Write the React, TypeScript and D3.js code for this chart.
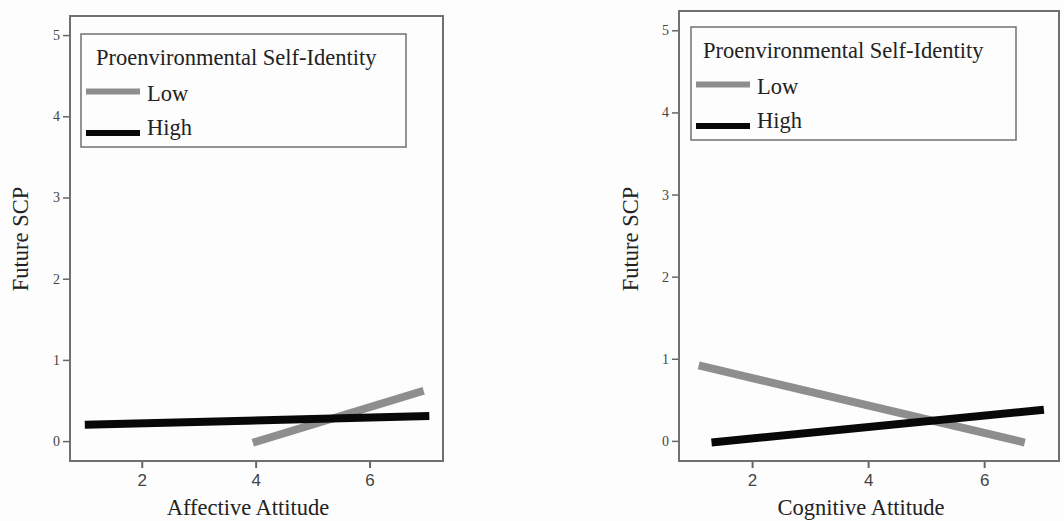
import { useEffect, useRef } from "react";
import * as d3 from "d3";

// Chart values
const groupNames = ["Low", "High"];
const legendTitle = "Proenvironmental Self-Identity";
const yLabel = "Future SCP";
const xLabels = ["Affective Attitude", "Cognitive Attitude"];
const xTicks = [2, 4, 6];
const yTicks = [0, 1, 2, 3, 4, 5];

// Affective panel: endpoints of the simple slopes
const affectiveLowX = [3.95, 6.95];
const affectiveLowY = [-0.02, 0.62];
const affectiveHighX = [1.0, 7.05];
const affectiveHighY = [0.2, 0.31];

// Cognitive panel
const cognitiveLowX = [1.08, 6.7];
const cognitiveLowY = [0.92, -0.02];
const cognitiveHighX = [1.3, 7.03];
const cognitiveHighY = [-0.02, 0.38];

const width = 1064;
const height = 521;

const xDomain = [0.74, 7.29];
const yDomain = [-0.245, 5.235];

// layout of each panel (pixels)
const panels = [
  {
    label: xLabels[0],
    frame: { left: 70, top: 16, right: 443, bottom: 461 },
    legend: { left: 81, top: 34, right: 406, bottom: 147 },
    titleDx: 15,
    yLabelX: 27.5,
    xLabelX: 248,
    series: [
      { name: groupNames[0], xs: affectiveLowX, ys: affectiveLowY },
      { name: groupNames[1], xs: affectiveHighX, ys: affectiveHighY },
    ],
  },
  {
    label: xLabels[1],
    frame: { left: 679, top: 11, right: 1059, bottom: 461 },
    legend: { left: 691, top: 27, right: 1016, bottom: 140 },
    titleDx: 12,
    yLabelX: 638,
    xLabelX: 861,
    series: [
      { name: groupNames[0], xs: cognitiveLowX, ys: cognitiveLowY },
      { name: groupNames[1], xs: cognitiveHighX, ys: cognitiveHighY },
    ],
  },
];

const colors: Record<string, string> = { Low: "#8e8e8e", High: "#080808" };
const serif = "'Liberation Serif', 'Times New Roman', serif";
const sans = "'Liberation Sans', Arial, sans-serif";
const fontSize = 22.5;

const drawChart = (node: SVGSVGElement) => {
  const svg = d3.select(node);
  svg.selectAll("*").remove();

  svg.append("rect").attr("width", width).attr("height", height).attr("fill", "#fdfdfd");

  panels.forEach((p) => {
    const f = p.frame;
    const x = d3.scaleLinear().domain(xDomain).range([f.left, f.right]);
    const y = d3.scaleLinear().domain(yDomain).range([f.bottom, f.top]);
    const g = svg.append("g");

    // frame
    g.append("rect")
      .attr("x", f.left)
      .attr("y", f.top)
      .attr("width", f.right - f.left)
      .attr("height", f.bottom - f.top)
      .attr("fill", "none")
      .attr("stroke", "#707070")
      .attr("stroke-width", 2);

    // y axis ticks
    const yAxis = g.append("g")
      .attr("transform", `translate(${f.left - 1},0)`)
      .call(d3.axisLeft(y).tickValues(yTicks).tickSize(6).tickPadding(3).tickFormat(d3.format("d")));
    yAxis.select(".domain").remove();
    yAxis.selectAll("line").attr("stroke", "#666").attr("stroke-width", 1.5);
    yAxis.selectAll("text").attr("font-family", serif).attr("font-size", 14).attr("fill", "#444");

    // x axis ticks
    const xAxis = g.append("g")
      .attr("transform", `translate(0,${f.bottom + 1})`)
      .call(d3.axisBottom(x).tickValues(xTicks).tickSize(6).tickPadding(6).tickFormat(d3.format("d")));
    xAxis.select(".domain").remove();
    xAxis.selectAll("line").attr("stroke", "#666").attr("stroke-width", 2);
    xAxis.selectAll("text").attr("font-family", sans).attr("font-size", 17).attr("fill", "#444");

    // lines
    const line = d3.line<[number, number]>().x((d) => x(d[0])).y((d) => y(d[1]));
    p.series.forEach((s) => {
      const pts = s.xs.map((v, i) => [v, s.ys[i]] as [number, number]);
      g.append("path")
        .attr("d", line(pts))
        .attr("fill", "none")
        .attr("stroke", colors[s.name])
        .attr("stroke-width", 8);
    });

    // legend
    const l = p.legend;
    g.append("rect")
      .attr("x", l.left)
      .attr("y", l.top)
      .attr("width", l.right - l.left)
      .attr("height", l.bottom - l.top)
      .attr("fill", "#fdfdfd")
      .attr("stroke", "#707070")
      .attr("stroke-width", 1.5);
    g.append("text")
      .attr("x", l.left + p.titleDx)
      .attr("y", l.top + 31)
      .attr("font-family", serif)
      .attr("font-size", fontSize)
      .attr("fill", "#222")
      .text(legendTitle);
    const swatchY = [57.5, 99];
    const labelY = [66.5, 101];
    groupNames.forEach((name, i) => {
      g.append("line")
        .attr("x1", l.left + 5)
        .attr("x2", l.left + 59)
        .attr("y1", l.top + swatchY[i])
        .attr("y2", l.top + swatchY[i])
        .attr("stroke", colors[name])
        .attr("stroke-width", 6);
      g.append("text")
        .attr("x", l.left + 66)
        .attr("y", l.top + labelY[i])
        .attr("font-family", serif)
        .attr("font-size", fontSize)
        .attr("fill", "#222")
        .text(name);
    });

    // axis titles
    g.append("text")
      .attr("transform", `translate(${p.yLabelX},239) rotate(-90)`)
      .attr("text-anchor", "middle")
      .attr("font-family", serif)
      .attr("font-size", fontSize)
      .attr("fill", "#222")
      .text(yLabel);
    g.append("text")
      .attr("x", p.xLabelX)
      .attr("y", 515)
      .attr("text-anchor", "middle")
      .attr("font-family", serif)
      .attr("font-size", fontSize)
      .attr("fill", "#222")
      .text(p.label);
  });
};

export default function App() {
  const ref = useRef<SVGSVGElement>(null);
  useEffect(() => {
    if (ref.current) drawChart(ref.current);
  }, []);
  return (
    <svg
      ref={ref}
      width={width}
      height={height}
      style={{ position: "absolute", left: 0, top: 0, display: "block" }}
    />
  );
}
